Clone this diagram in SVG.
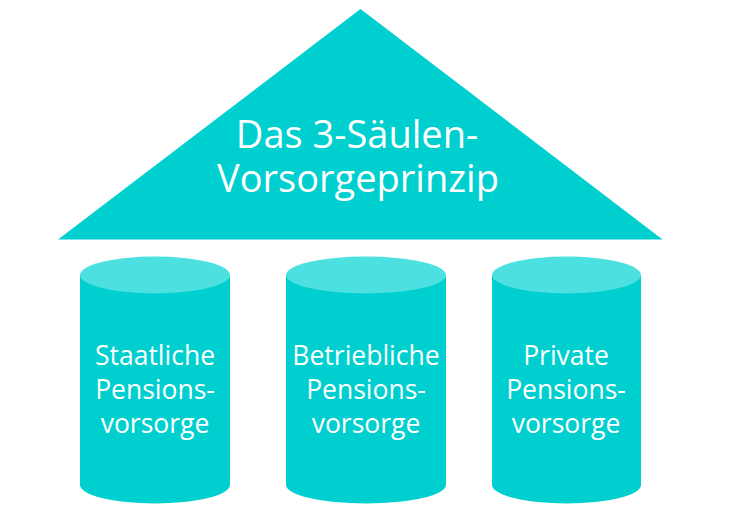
<svg xmlns="http://www.w3.org/2000/svg" width="734" height="521" viewBox="0 0 734 521">
<style>
.body{fill:#00CFCF}
.top{fill:#4CE0E0}
.t{fill:#FFFFFF;font-family:"Open Sans","Noto Sans","DejaVu Sans",sans-serif;text-anchor:middle}
.tt{font-size:38px}
.ct{font-size:26.5px}
</style>
<rect width="734" height="521" fill="#FFFFFF"/>
<g id="roof">
<polygon class="body" points="360.5,9 58,239.5 662.5,239.5"/>
<text class="t tt" x="357" y="148">Das 3-Säulen-</text>
<text class="t tt" x="358" y="192">Vorsorgeprinzip</text>
</g>
<g id="pillar1">
<path class="body" d="M80,275 L80,485 A75,18.5 0 0 0 230,485 L230,275 Z"/>
<ellipse class="top" cx="155" cy="275" rx="75" ry="18.5"/>
<text class="t ct" x="155" y="365">Staatliche</text>
<text class="t ct" x="155" y="399">Pensions-</text>
<text class="t ct" x="155" y="433">vorsorge</text>
</g>
<g id="pillar2">
<path class="body" d="M286,275 L286,485 A80,18.5 0 0 0 446,485 L446,275 Z"/>
<ellipse class="top" cx="366" cy="275" rx="80" ry="18.5"/>
<text class="t ct" x="366" y="365">Betriebliche</text>
<text class="t ct" x="366" y="399">Pensions-</text>
<text class="t ct" x="366" y="433">vorsorge</text>
</g>
<g id="pillar3">
<path class="body" d="M492,275 L492,485 A74.5,18.5 0 0 0 641,485 L641,275 Z"/>
<ellipse class="top" cx="566.5" cy="275" rx="74.5" ry="18.5"/>
<text class="t ct" x="566" y="365">Private</text>
<text class="t ct" x="566" y="399">Pensions-</text>
<text class="t ct" x="566" y="433">vorsorge</text>
</g>
<g id="connectors"/>
</svg>
